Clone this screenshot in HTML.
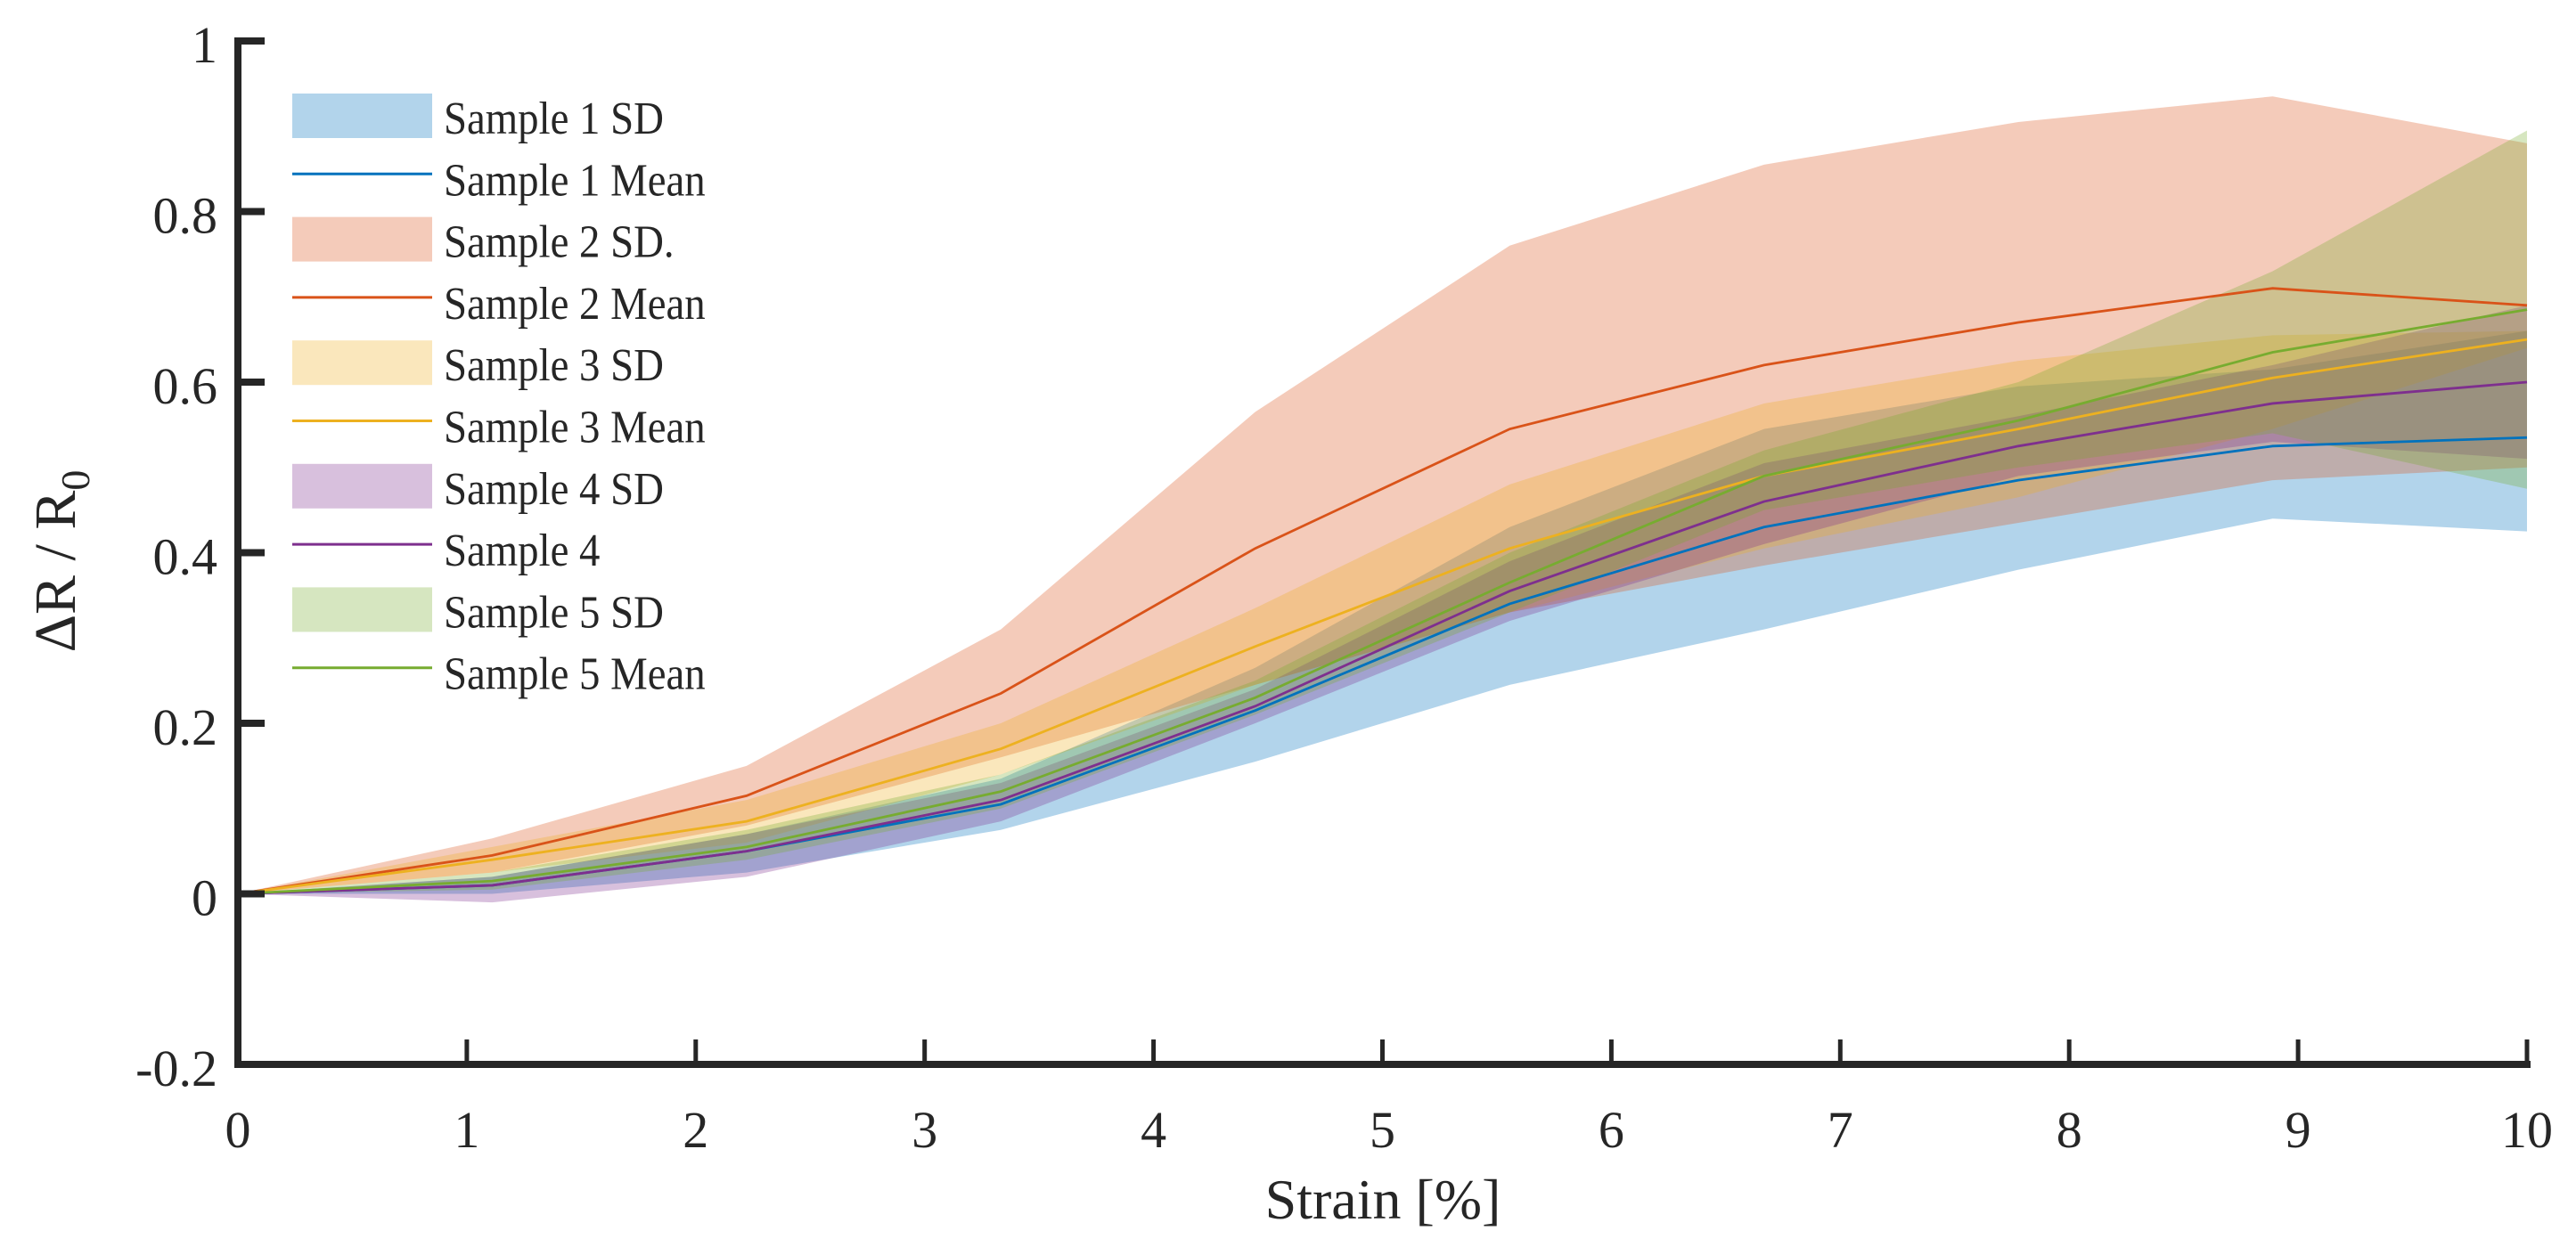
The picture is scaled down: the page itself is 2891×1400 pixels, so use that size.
<!DOCTYPE html>
<html><head><meta charset="utf-8"><style>
html,body{margin:0;padding:0;background:#fff;}
svg{display:block;font-family:"Liberation Serif",serif;}
</style></head><body>
<svg id="chart" width="2891" height="1400" viewBox="0 0 2891 1400">
<g id="fills"></g>
<g id="lines"></g>
<g id="axes"></g>
<g id="legend"></g>
</svg>
<script>
const xVals=[0,1.111,2.222,3.333,4.444,5.556,6.667,7.778,8.889,10];
const xTicks=[0,1,2,3,4,5,6,7,8,9,10];
const yTicks=[-0.2,0,0.2,0.4,0.6,0.8,1];
const yTickLabels=["-0.2","0","0.2","0.4","0.6","0.8","1"];
const s1Mean=[0,0.01,0.05,0.105,0.215,0.34,0.43,0.485,0.525,0.535];
const s1Up=[0,0.02,0.07,0.135,0.265,0.43,0.545,0.595,0.615,0.66];
const s1Lo=[0,0,0.025,0.075,0.155,0.245,0.31,0.38,0.44,0.425];
const s2Mean=[0,0.045,0.115,0.235,0.405,0.545,0.62,0.67,0.71,0.69];
const s2Up=[0,0.065,0.15,0.31,0.565,0.76,0.855,0.905,0.935,0.88];
const s2Lo=[0,0.025,0.08,0.16,0.245,0.33,0.385,0.435,0.485,0.5];
const s3Mean=[0,0.04,0.085,0.17,0.29,0.405,0.49,0.545,0.605,0.65];
const s3Up=[0,0.055,0.11,0.2,0.335,0.48,0.575,0.625,0.655,0.66];
const s3Lo=[0,0.025,0.06,0.14,0.245,0.33,0.405,0.465,0.545,0.64];
const s4Mean=[0,0.01,0.05,0.11,0.22,0.355,0.46,0.525,0.575,0.6];
const s4Up=[0,0.02,0.07,0.13,0.24,0.39,0.505,0.56,0.62,0.69];
const s4Lo=[0,-0.01,0.02,0.085,0.2,0.32,0.41,0.49,0.53,0.51];
const s5Mean=[0,0.015,0.055,0.12,0.23,0.365,0.49,0.555,0.635,0.685];
const s5Up=[0,0.025,0.075,0.14,0.25,0.4,0.52,0.6,0.73,0.895];
const s5Lo=[0,0.005,0.04,0.1,0.21,0.33,0.45,0.5,0.54,0.475];
const legendLabels=["Sample 1 SD","Sample 1 Mean","Sample 2 SD.","Sample 2 Mean","Sample 3 SD","Sample 3 Mean","Sample 4 SD","Sample 4","Sample 5 SD","Sample 5 Mean"];

const NS="http://www.w3.org/2000/svg";
const X0=267,X1=2836,Y0=1195,Y1=46;
const sx=v=>X0+(v-0)/(10-0)*(X1-X0);
const sy=v=>Y0-(v+0.2)/(1.2)*(Y0-Y1);
function mk(tag,attrs,parent){const e=document.createElementNS(NS,tag);for(const k in attrs)e.setAttribute(k,attrs[k]);parent.appendChild(e);return e;}
const colors=["#0072BD","#D95319","#EDB120","#7E2F8E","#77AC30"];
const series=[[s1Mean,s1Up,s1Lo],[s2Mean,s2Up,s2Lo],[s3Mean,s3Up,s3Lo],[s4Mean,s4Up,s4Lo],[s5Mean,s5Up,s5Lo]];
const fills=document.getElementById('fills'),lines=document.getElementById('lines');
series.forEach((s,i)=>{
  let d="M"+xVals.map((x,j)=>sx(x)+","+sy(s[1][j])).join("L");
  d+="L"+xVals.map((x,j)=>[x,j]).reverse().map(([x,j])=>sx(x)+","+sy(s[2][j])).join("L")+"Z";
  const p=mk('path',{d:d,fill:colors[i],'fill-opacity':0.3,stroke:'none'},fills);
  
  
});
series.forEach((s,i)=>{
  const l=mk('polyline',{points:xVals.map((x,j)=>sx(x)+","+sy(s[0][j])).join(" "),fill:'none',stroke:colors[i],'stroke-width':2.8},lines);
  
  
});
const ax=document.getElementById('axes');
const ya=mk('line',{x1:X0,y1:Y1-4,x2:X0,y2:Y0+4,stroke:'#262626','stroke-width':8},ax);


const xa=mk('line',{x1:X0-4,y1:Y0,x2:X1+4,y2:Y0,stroke:'#262626','stroke-width':8},ax);


xTicks.forEach(t=>{
  const tk=mk('line',{x1:sx(t),y1:Y0,x2:sx(t),y2:Y0-28,stroke:'#262626','stroke-width':5},ax);
  
  
  const tx=mk('text',{x:sx(t),y:1288,'font-size':58,'text-anchor':'middle',fill:'#262626'},ax);
  tx.textContent=String(t);
  
  
});
yTicks.forEach((t,i)=>{
  const tk=mk('line',{x1:X0,y1:sy(t),x2:X0+30,y2:sy(t),stroke:'#262626','stroke-width':8},ax);
  
  
  const tx=mk('text',{x:244,y:sy(t)+24,'font-size':58,'text-anchor':'end',fill:'#262626'},ax);
  tx.textContent=yTickLabels[i];
  
  
});
const xl=mk('text',{x:1552,y:1368,'font-size':64,'text-anchor':'middle',fill:'#262626'},ax);
xl.textContent="Strain [%]";


const yl=mk('text',{x:0,y:0,'font-size':66,'text-anchor':'middle',fill:'#262626',transform:'translate(84,630) rotate(-90)'},ax);
yl.innerHTML='ΔR / R<tspan font-size="46" dy="16">0</tspan>';


const lg=document.getElementById('legend');
legendLabels.forEach((lab,i)=>{
  const cy=130+i*69.3, c=colors[Math.floor(i/2)];
  let m;
  if(i%2===0){m=mk('rect',{x:328,y:cy-25,width:157,height:50,fill:c,'fill-opacity':0.3},lg);}
  else{m=mk('line',{x1:328,y1:cy-4,x2:485,y2:cy-4,stroke:c,'stroke-width':3},lg);}
  
  
  const t=mk('text',{x:0,y:0,'font-size':52,fill:'#262626',transform:'translate(498,'+(cy+20)+') scale(0.9,1)'},lg);
  t.textContent=lab;
  
  
});
</script>
</body></html>
